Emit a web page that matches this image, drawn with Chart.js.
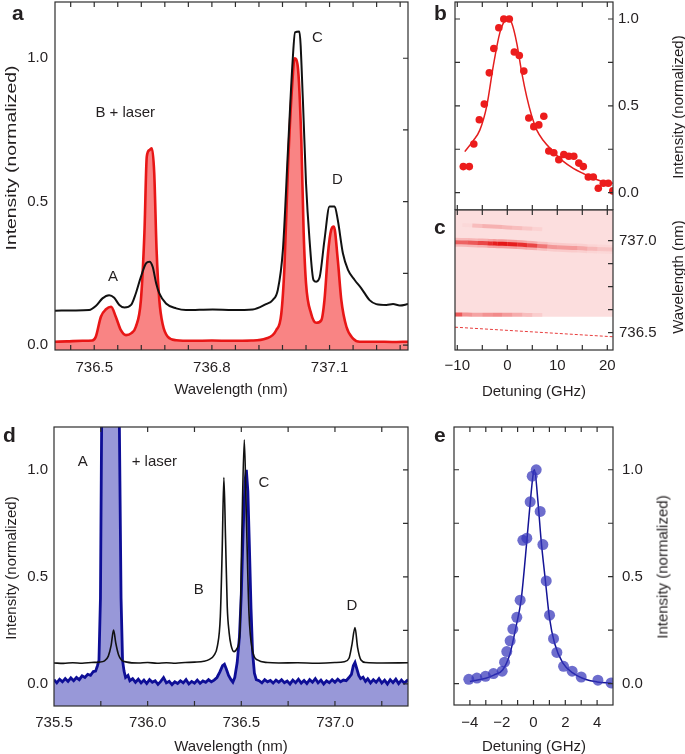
<!DOCTYPE html>
<html><head><meta charset="utf-8">
<script src="https://cdn.jsdelivr.net/npm/chart.js@4.4.1/dist/chart.umd.min.js"></script>
<style>
body{margin:0;width:685px;height:754px;position:relative;background:#fff;overflow:hidden;font-family:"Liberation Sans",Arial,sans-serif;color:#231f20}
canvas{position:absolute}
.t{position:absolute;font-size:15px;white-space:nowrap;line-height:1}
.L{position:absolute;font-size:21px;font-weight:bold;line-height:1}
</style></head><body>
<canvas id="ca" width="420" height="400" style="left:0;top:0"></canvas>
<canvas id="cb" width="265" height="210" style="left:420px;top:0"></canvas>
<canvas id="cc" width="265" height="195" style="left:420px;top:205px"></canvas>
<canvas id="cd" width="420" height="354" style="left:0;top:400px"></canvas>
<canvas id="ce" width="265" height="354" style="left:420px;top:400px"></canvas>

<div class="L" style="left:12px;top:2px">a</div>
<div class="L" style="left:434px;top:2px">b</div>
<div class="L" style="left:434px;top:216px">c</div>
<div class="L" style="left:3px;top:424px">d</div>
<div class="L" style="left:434px;top:424px">e</div>

<div class="t" style="left:10px;top:158px;transform:translate(-50%,-50%) rotate(-90deg) scaleX(1.29)">Intensity (normalized)</div>
<div class="t" style="left:231px;top:388px;transform:translate(-50%,-50%)">Wavelength (nm)</div>
<div class="t" style="left:677px;top:107px;transform:translate(-50%,-50%) rotate(-90deg)">Intensity (normalized)</div>
<div class="t" style="left:677px;top:277px;transform:translate(-50%,-50%) rotate(-90deg)">Wavelength (nm)</div>
<div class="t" style="left:534px;top:390px;transform:translate(-50%,-50%)">Detuning (GHz)</div>
<div class="t" style="left:10px;top:568px;transform:translate(-50%,-50%) rotate(-90deg)">Intensity (normalized)</div>
<div class="t" style="left:231px;top:745px;transform:translate(-50%,-50%)">Wavelength (nm)</div>
<div class="t" style="left:662px;top:567px;transform:translate(-50%,-50%) rotate(-90deg)">Intensity (normalized)</div>
<div class="t" style="left:534px;top:745px;transform:translate(-50%,-50%)">Detuning (GHz)</div>

<script>
const FONT = '"Liberation Sans", Arial, sans-serif';
const TXT = '#231f20';

/* ---------- panel a ---------- */
const aRedWl = [736.400,736.430,736.470,736.495,736.504,736.517,736.530,736.543,736.555,736.568,736.581,736.594,736.606,736.619,736.628,736.634,736.641,736.647,736.653,736.659,736.666,736.675,736.687,736.709,736.75,736.80,736.85,736.90,736.938,736.964,736.977,736.985,736.994,737.005,737.011,737.019,737.028,737.034,737.040,737.053,737.066,737.079,737.087,737.096,737.104,737.111,737.121,737.130,737.143,737.160,737.177,737.22,737.26,737.30];
const aRedI  = [0.012,0.013,0.015,0.016,0.029,0.099,0.125,0.134,0.099,0.052,0.035,0.041,0.064,0.157,0.392,0.657,0.680,0.686,0.599,0.331,0.157,0.070,0.030,0.017,0.015,0.016,0.015,0.016,0.023,0.052,0.110,0.273,0.622,0.913,1.000,0.971,0.715,0.392,0.215,0.110,0.078,0.087,0.157,0.320,0.401,0.413,0.297,0.157,0.064,0.023,0.012,0.012,0.011,0.012];
const aBlkWl = [736.400,736.450,736.487,736.504,736.521,736.538,736.551,736.564,736.577,736.594,736.606,736.619,736.632,736.641,736.649,736.658,736.666,736.683,736.709,736.734,736.802,736.853,736.904,736.938,736.955,736.968,736.981,736.994,737.006,737.012,737.023,737.032,737.040,737.049,737.059,737.066,737.075,737.087,737.100,737.113,737.121,737.134,737.147,737.164,737.181,737.202,737.219,737.245,737.262,737.279,737.300];
const aBlkI  = [0.120,0.121,0.122,0.136,0.163,0.174,0.165,0.140,0.131,0.140,0.180,0.238,0.285,0.291,0.273,0.215,0.180,0.145,0.128,0.122,0.124,0.122,0.124,0.143,0.157,0.192,0.331,0.680,0.994,1.090,1.093,0.855,0.564,0.366,0.227,0.221,0.238,0.366,0.483,0.483,0.436,0.320,0.262,0.227,0.198,0.157,0.143,0.140,0.143,0.138,0.143];
const aXLabels = [736.5,736.8,737.1];
const aXTicks = [736.44,736.50,736.56,736.62,736.68,736.74,736.80,736.86,736.92,736.98,737.04,737.10,737.16,737.22,737.28];
const aYLabels = [0,0.5,1.0];
const aYTicks = [0,0.25,0.5,0.75,1.0];
const aNoteText = ['A','B + laser','C','D'];
const aNoteX = [736.548,736.579,737.069,737.120];
const aNoteY = [0.237,0.809,1.071,0.576];

/* ---------- panel b ---------- */
const bDet = [-8.8,-7.6,-6.7,-5.6,-4.6,-3.6,-2.7,-1.7,-0.7,0.4,1.4,2.4,3.3,4.3,5.3,6.3,7.3,8.3,9.3,10.3,11.3,12.3,13.3,14.3,15.2,16.2,17.2,18.2,19.2,20.2,21.1];
const bInt = [0.15,0.15,0.28,0.42,0.51,0.69,0.83,0.95,1.0,1.0,0.81,0.79,0.70,0.43,0.38,0.39,0.44,0.24,0.23,0.19,0.22,0.21,0.21,0.17,0.15,0.09,0.09,0.025,0.054,0.054,0.01];
const bFitDet = [-8.5,-6.8,-5.5,-4.1,-2.8,-1.5,-0.5,0.2,0.9,1.9,2.9,3.9,4.9,5.9,7.2,9.2,11.2,13.2,15.2,17.2,19.2,21.1];
const bFitInt = [0.236,0.30,0.36,0.50,0.73,0.92,0.99,1.0,0.975,0.86,0.69,0.55,0.44,0.36,0.30,0.236,0.18,0.14,0.11,0.083,0.063,0.054];
const bXTicks = [-10,-5,0,5,10,15,20];
const bYLabels = [0,0.5,1.0];
const bYTicks = [0,0.25,0.5,0.75,1.0];

/* ---------- panel c (map) ---------- */
const cXLabels = [-10,0,10,20];
const cYLabels = [736.5,737.0];
const cYTicks = [736.5,736.625,736.75,736.875,737.0];
const cMapEdgeDet = [-10.46,21.14];
const cMapEdgeWl = [736.587,736.587];
const cMainDet = [-10.46,-8,-6,-4,-3,-2,0,2,4,6,8,10,12,14,16,18,21.14];
const cMainWl  = [736.992,736.990,736.988,736.986,736.985,736.984,736.982,736.979,736.976,736.972,736.968,736.965,736.962,736.960,736.957,736.955,736.952];
const cMainI   = [0.55,0.6,0.7,0.85,0.95,1.0,0.95,0.85,0.7,0.45,0.3,0.28,0.28,0.22,0.15,0.1,0.05];
const cUpDet = [-9,-7,-5,-3,-1,1,3,5,7];
const cUpWl  = [737.085,737.083,737.080,737.077,737.074,737.071,737.068,737.065,737.062];
const cUpI   = [0.05,0.3,0.4,0.4,0.35,0.3,0.2,0.1,0.0];
const cLowDet = [-10.46,-9,-7,-5,-3,-1,1,3,5,7];
const cLowWl  = [736.599,736.599,736.598,736.598,736.598,736.597,736.597,736.597,736.596,736.596];
const cLowI   = [0.8,0.45,0.35,0.45,0.5,0.4,0.3,0.2,0.1,0.0];
const cLaserDet = [-10.46,21.14];
const cLaserWl  = [736.530,736.478];

/* ---------- panel d ---------- */
const dBluWl = [735.500,735.515,735.530,735.545,735.560,735.575,735.590,735.605,735.620,735.635,735.650,735.665,735.680,735.695,735.710,735.722,735.732,735.740,735.748,735.755,735.765,735.800,735.835,735.848,735.858,735.866,735.874,735.882,735.895,735.905,735.920,735.935,735.950,735.965,735.980,735.995,736.010,736.025,736.040,736.055,736.070,736.085,736.100,736.115,736.130,736.145,736.160,736.175,736.190,736.205,736.220,736.235,736.250,736.265,736.280,736.295,736.310,736.325,736.340,736.355,736.370,736.385,736.400,736.410,736.420,736.432,736.445,736.455,736.465,736.478,736.490,736.500,736.510,736.520,736.527,736.535,736.543,736.552,736.560,736.570,736.580,736.595,736.610,736.625,736.640,736.655,736.670,736.685,736.700,736.715,736.730,736.745,736.760,736.775,736.790,736.805,736.820,736.835,736.850,736.865,736.880,736.895,736.910,736.925,736.940,736.955,736.970,736.985,737.000,737.015,737.030,737.045,737.060,737.075,737.088,737.098,737.107,737.117,737.127,737.137,737.150,737.163,737.175,737.190,737.205,737.220,737.235,737.250,737.265,737.280,737.295,737.310,737.325,737.340,737.355,737.370,737.385,737.390];
const dBluI  = [0.020,0.005,0.022,0.010,0.025,0.012,0.028,0.015,0.030,0.020,0.038,0.030,0.045,0.040,0.058,0.060,0.085,0.110,0.400,1.300,2.500,3.000,2.500,1.300,0.400,0.110,0.060,0.030,0.040,0.015,0.025,0.008,0.022,0.005,0.018,0.002,0.020,0.008,0.015,-0.002,0.012,0.030,0.005,0.012,-0.003,0.010,0.002,0.015,0.005,0.020,0.000,0.012,0.004,0.018,0.003,0.014,0.008,0.020,0.010,0.018,0.030,0.055,0.085,0.092,0.070,0.040,0.020,0.008,0.030,0.100,0.220,0.420,0.720,0.950,1.000,0.900,0.650,0.350,0.150,0.050,0.020,0.015,0.005,0.020,0.010,0.016,0.004,0.018,0.008,0.020,0.006,0.014,0.000,0.018,0.006,0.022,0.004,0.016,0.002,0.020,0.008,0.025,0.005,0.018,0.000,0.015,0.006,0.020,0.008,0.022,0.010,0.018,0.015,0.030,0.045,0.085,0.100,0.070,0.040,0.025,0.032,0.012,0.024,0.005,0.020,0.008,0.025,0.004,0.018,0.000,0.020,0.006,0.022,0.002,0.018,0.004,0.016,0.010];
const dBlkWl = [735.500,735.550,735.600,735.650,735.700,735.740,735.770,735.790,735.805,735.818,735.830,735.845,735.860,735.890,735.950,736.000,736.050,736.100,736.150,736.200,736.250,736.300,736.330,736.355,736.372,736.388,736.398,736.407,736.416,736.425,736.435,736.445,736.461,736.478,736.493,736.503,736.516,736.527,736.541,736.559,736.586,736.640,736.700,736.800,736.900,737.000,737.050,737.075,737.090,737.107,737.121,737.139,737.166,737.250,737.390];
const dBlkI  = [0.098,0.096,0.099,0.097,0.100,0.102,0.108,0.130,0.180,0.252,0.190,0.135,0.112,0.102,0.098,0.100,0.097,0.099,0.097,0.100,0.102,0.106,0.115,0.135,0.175,0.315,0.626,0.964,0.673,0.361,0.240,0.182,0.151,0.167,0.252,0.704,1.140,0.782,0.330,0.159,0.112,0.100,0.098,0.099,0.097,0.100,0.104,0.120,0.180,0.263,0.170,0.112,0.100,0.098,0.099];
const dXLabels = [735.5,736.0,736.5,737.0];
const dXTicks = [735.75,736.0,736.25,736.5,736.75,737.0,737.25];
const dYLabels = [0,0.5,1.0];
const dYTicks = [0,0.25,0.5,0.75,1.0];
const dNoteText = ['A','+ laser','B','C','D'];
const dNoteX = [735.654,736.036,736.273,736.621,737.091];
const dNoteY = [1.039,1.039,0.439,0.941,0.364];

/* ---------- panel e ---------- */
const eDet = [-4.07,-3.56,-3.02,-2.52,-1.97,-1.82,-1.68,-1.47,-1.30,-1.05,-0.84,-0.67,-0.42,-0.21,-0.08,0.17,0.42,0.59,0.80,1.01,1.26,1.47,1.89,2.43,3.0,4.05,4.88];
const eInt = [0.02,0.026,0.034,0.047,0.058,0.10,0.15,0.20,0.255,0.31,0.39,0.67,0.68,0.85,0.97,1.0,0.805,0.65,0.48,0.32,0.21,0.146,0.081,0.058,0.031,0.016,0.003];
const eFitDet = [-4.0,-3.0,-2.5,-1.93,-1.5,-1.09,-0.78,-0.5,-0.25,0.0,0.06,0.27,0.48,0.75,1.0,1.32,1.84,2.47,3.3,4.0,4.9];
const eFitInt = [0.01,0.025,0.04,0.065,0.135,0.27,0.39,0.6,0.81,0.99,1.0,0.86,0.67,0.48,0.31,0.19,0.097,0.05,0.019,0.008,0.003];
const eXLabels = [-4,-2,0,2,4];
const eXTicks = [-4,-3,-2,-1,0,1,2,3,4];
const eYLabels = [0,0.5,1.0];
const eYTicks = [0,0.25,0.5,0.75,1.0];

/* ---------- helpers ---------- */
const pts = (xs, ys) => xs.map((x, i) => ({x, y: ys[i]}));
const f1 = v => Number(v).toFixed(1);
const fm = v => v < 0 ? '\u2212' + Math.abs(v) : String(v);

function axis(pos, min, max, labels, fmt, size, pad, display) {
  return {
    type: 'linear', position: pos, min, max, display: display !== false,
    grid: {display: false, drawTicks: false}, border: {display: false},
    ticks: {padding: pad, color: TXT, font: {family: FONT, size: 15}, maxRotation: 0, autoSkip: false, callback: fmt},
    afterBuildTicks: s => { s.ticks = labels.map(v => ({value: v})); },
    afterFit: s => {
      if (pos === 'left' || pos === 'right') s.width = size; else s.height = size;
      s.paddingTop = 0; s.paddingBottom = 0; s.paddingLeft = 0; s.paddingRight = 0;
    }
  };
}

function framePlug(o) {
  return {
    id: 'frame',
    afterDatasetsDraw(chart) {
      const {ctx, chartArea: a} = chart;
      const xs = chart.scales.x, ys = chart.scales.y, L = 5;
      ctx.save();
      ctx.strokeStyle = '#2e2e2e'; ctx.lineWidth = 1.2;
      ctx.beginPath();
      (o.xt || []).forEach(v => {
        const p = xs.getPixelForValue(v);
        if (o.xb) { ctx.moveTo(p, a.bottom); ctx.lineTo(p, a.bottom - L); }
        if (o.xtop) { ctx.moveTo(p, a.top); ctx.lineTo(p, a.top + L); }
      });
      (o.yt || []).forEach(v => {
        const p = ys.getPixelForValue(v);
        if (o.yl) { ctx.moveTo(a.left, p); ctx.lineTo(a.left + L, p); }
        if (o.yr) { ctx.moveTo(a.right, p); ctx.lineTo(a.right - L, p); }
      });
      ctx.stroke();
      ctx.strokeRect(a.left, a.top, a.right - a.left, a.bottom - a.top);
      ctx.restore();
    }
  };
}

function notesPlug(text, xs, ys) {
  return {
    id: 'notes',
    afterDatasetsDraw(chart) {
      const {ctx} = chart; const sx = chart.scales.x, sy = chart.scales.y;
      ctx.save();
      ctx.fillStyle = TXT; ctx.font = '15px ' + FONT;
      ctx.textAlign = 'center'; ctx.textBaseline = 'middle';
      text.forEach((t, i) => ctx.fillText(t, sx.getPixelForValue(xs[i]), sy.getPixelForValue(ys[i])));
      ctx.restore();
    }
  };
}

const base = {
  responsive: false, animation: false, devicePixelRatio: 1,
  events: [],
  plugins: {legend: {display: false}, tooltip: {enabled: false}}
};

/* ---------- chart a ---------- */
new Chart(document.getElementById('ca'), {
  type: 'line',
  data: {datasets: [
    {data: pts(aBlkWl, aBlkI), borderColor: '#111', borderWidth: 2, pointRadius: 0, cubicInterpolationMode: 'monotone', fill: false},
    {data: pts(aRedWl, aRedI), borderColor: 'rgb(232,22,22)', borderWidth: 2.6, pointRadius: 0, cubicInterpolationMode: 'monotone', fill: 'start', backgroundColor: 'rgb(249,132,132)'}
  ]},
  options: Object.assign({}, base, {
    layout: {padding: {left: 0, top: 2, right: 12, bottom: 0}, autoPadding: false},
    scales: {
      x: axis('bottom', 736.4, 737.3, aXLabels, f1, 50, 9),
      y: axis('left', -0.017, 1.196, aYLabels, f1, 55, 7)
    }
  }),
  plugins: [framePlug({xt: aXTicks, xb: true, xtop: true, yt: aYTicks, yr: true}), notesPlug(aNoteText, aNoteX, aNoteY)]
});

/* ---------- chart b ---------- */
new Chart(document.getElementById('cb'), {
  type: 'line',
  data: {datasets: [
    {data: pts(bDet, bInt), showLine: false, pointRadius: 3.8, pointBackgroundColor: 'rgb(236,28,28)', pointBorderWidth: 0},
    {data: pts(bFitDet, bFitInt), borderColor: 'rgb(228,30,30)', borderWidth: 1.5, pointRadius: 0, cubicInterpolationMode: 'monotone', fill: false}
  ]},
  options: Object.assign({}, base, {
    layout: {padding: {left: 35, top: 2, right: 0, bottom: 0}, autoPadding: false},
    scales: {
      x: axis('bottom', -10.46, 21.14, [], fm, 0, 0, false),
      y: axis('right', -0.1, 1.098, bYLabels, f1, 72, 5)
    }
  }),
  plugins: [framePlug({xt: bXTicks, xb: true, xtop: true, yt: bYTicks, yl: true, yr: true})]
});

/* ---------- chart c ---------- */
function streak(xs, ys, I, w, k) {
  return {data: pts(xs, ys), borderWidth: w, pointRadius: 0, fill: false, tension: 0.3,
    borderColor: 'rgba(225,0,0,0.3)',
    segment: {borderColor: c => 'rgba(226,0,0,' + (I[c.p0DataIndex] * k).toFixed(3) + ')'}};
}
new Chart(document.getElementById('cc'), {
  type: 'line',
  data: {datasets: [
    {data: pts(cLaserDet, cLaserWl), borderColor: 'rgb(232,60,60)', borderWidth: 1, borderDash: [3, 2], pointRadius: 0, fill: false},
    streak(cMainDet, cMainWl, cMainI, 4, 0.85),
    streak(cMainDet, cMainWl, cMainI, 9, 0.3),
    streak(cUpDet, cUpWl, cUpI, 4, 0.5),
    streak(cLowDet, cLowWl, cLowI, 4, 0.75),
    {data: pts(cMapEdgeDet, cMapEdgeWl), borderWidth: 0, pointRadius: 0, fill: 'end', backgroundColor: 'rgb(252,222,222)'}
  ]},
  options: Object.assign({}, base, {
    layout: {padding: {left: 35, top: 5, right: 0, bottom: 0}, autoPadding: false},
    scales: {
      x: axis('bottom', -10.46, 21.14, cXLabels, fm, 50, 7),
      y: axis('right', 736.406, 737.167, cYLabels, f1, 72, 6)
    }
  }),
  plugins: [framePlug({xt: bXTicks, xb: true, xtop: true, yt: cYTicks, yr: true})]
});

/* ---------- chart d ---------- */
new Chart(document.getElementById('cd'), {
  type: 'line',
  data: {datasets: [
    {data: pts(dBlkWl, dBlkI), borderColor: '#111', borderWidth: 1.6, pointRadius: 0, cubicInterpolationMode: 'monotone', fill: false},
    {data: pts(dBluWl, dBluI), borderColor: 'rgb(14,14,150)', borderWidth: 2.8, pointRadius: 0, tension: 0, fill: 'start', backgroundColor: 'rgb(152,152,216)'}
  ]},
  options: Object.assign({}, base, {
    layout: {padding: {left: 0, top: 27, right: 12, bottom: 0}, autoPadding: false},
    scales: {
      x: axis('bottom', 735.5, 737.39, dXLabels, f1, 48, 8),
      y: axis('left', -0.103, 1.2, dYLabels, f1, 54, 6)
    }
  }),
  plugins: [framePlug({xt: dXTicks, xb: true, xtop: true, yt: dYTicks, yr: true}), notesPlug(dNoteText, dNoteX, dNoteY)]
});

/* ---------- chart e ---------- */
new Chart(document.getElementById('ce'), {
  type: 'line',
  data: {datasets: [
    {data: pts(eDet, eInt), showLine: false, pointRadius: 5.5, pointBackgroundColor: 'rgba(52,52,186,0.72)', pointBorderWidth: 0},
    {data: pts(eFitDet, eFitInt), borderColor: 'rgb(20,20,150)', borderWidth: 1.5, pointRadius: 0, cubicInterpolationMode: 'monotone', fill: false}
  ]},
  options: Object.assign({}, base, {
    layout: {padding: {left: 34, top: 27, right: 0, bottom: 0}, autoPadding: false},
    scales: {
      x: axis('bottom', -5, 5, eXLabels, fm, 49, 9),
      y: axis('right', -0.1, 1.2, eYLabels, f1, 72, 9)
    }
  }),
  plugins: [framePlug({xt: eXTicks, xb: true, xtop: true, yt: eYTicks, yl: true, yr: true})]
});
</script>
</body></html>
